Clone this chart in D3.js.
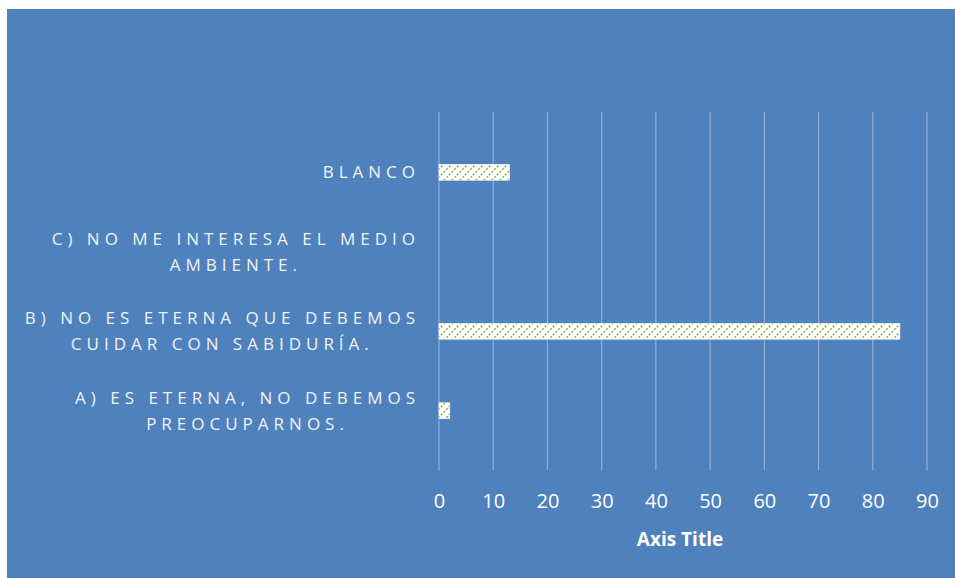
<!DOCTYPE html>
<html><head><meta charset="utf-8">
<script src="https://cdn.jsdelivr.net/npm/d3@7"></script>
<style>body{margin:0;background:#fff}svg{display:block}</style>
</head><body>
<script>
const categories = [
  ["BLANCO"],
  ["C) NO ME INTERESA EL MEDIO", "AMBIENTE."],
  ["B) NO ES ETERNA QUE DEBEMOS", "CUIDAR CON SABIDURÍA."],
  ["A) ES ETERNA, NO DEBEMOS", "PREOCUPARNOS."]
];
const values = [13, 0, 85, 2];
const tickValues = [0, 10, 20, 30, 40, 50, 60, 70, 80, 90];
const axisTitle = "Axis Title";

const W = 955, H = 578;
const svg = d3.select("body").append("svg").attr("width", W).attr("height", H);
const defs = svg.append("defs");
const pat = defs.append("pattern").attr("id", "hatch").attr("patternUnits", "userSpaceOnUse")
  .attr("width", 8).attr("height", 8);
pat.append("rect").attr("width", 8).attr("height", 8).attr("fill", "#ffffff");
pat.append("path").attr("d", "M-2,10 L10,-2 M-10,10 L2,-2 M6,10 L18,-2").attr("stroke", "#9BBB59")
  .attr("stroke-width", 1.8).attr("stroke-dasharray", "2,2");

svg.append("rect").attr("x", 7).attr("y", 9).attr("width", W - 7).attr("height", H - 9).attr("fill", "#4F81BD");

const x = d3.scaleLinear().domain([0, 90]).range([439, 927]);
const y = d3.scaleBand().domain(d3.range(categories.length)).range([132.5, 450.5]).paddingInner(0.8).paddingOuter(0.4);

// gridlines
svg.append("g").selectAll("line").data(tickValues).join("line")
  .attr("x1", d => x(d)).attr("x2", d => x(d)).attr("y1", 112).attr("y2", 470)
  .attr("stroke", "#a9bfe0").attr("stroke-opacity", 0.75).attr("stroke-width", 1.2);

// bars
svg.append("g").selectAll("rect").data(values).join("rect")
  .attr("x", x(0)).attr("y", (d, i) => y(i)).attr("width", d => x(d) - x(0)).attr("height", y.bandwidth())
  .attr("fill", "url(#hatch)").attr("stroke", d => d > 0 ? "#ffffff" : "none").attr("stroke-width", 0.6);

// x axis
const xa = svg.append("g").attr("transform", "translate(0,470)")
  .call(d3.axisBottom(x).tickValues(tickValues).tickSize(0).tickPadding(24));
xa.select(".domain").remove();
xa.selectAll("text").attr("fill", "#ffffff").attr("font-family", "Open Sans, sans-serif").attr("font-size", 20);

svg.append("text").attr("x", 680).attr("y", 546).attr("text-anchor", "middle")
  .attr("fill", "#ffffff").attr("font-family", "Open Sans, sans-serif").attr("font-weight", "bold")
  .attr("font-size", 19).text(axisTitle);

// category labels
const ls = 5;
const lg = svg.append("g").attr("font-family", "Open Sans, sans-serif").attr("font-size", 17)
  .attr("fill", "#f2f2f2").style("letter-spacing", ls + "px");
const rightEdge = 415;
categories.forEach((lines, i) => {
  const cy = y(i) + y.bandwidth() / 2;
  const grp = lg.append("g");
  const texts = lines.map((t, j) => grp.append("text")
    .attr("y", cy + (j - (lines.length - 1) / 2) * 26 + 6)
    .attr("text-anchor", "middle").text(t));
  const maxW = d3.max(texts, t => t.node().getComputedTextLength());
  texts.forEach(t => t.attr("x", rightEdge + ls - maxW / 2));
});
</script>
</body></html>
